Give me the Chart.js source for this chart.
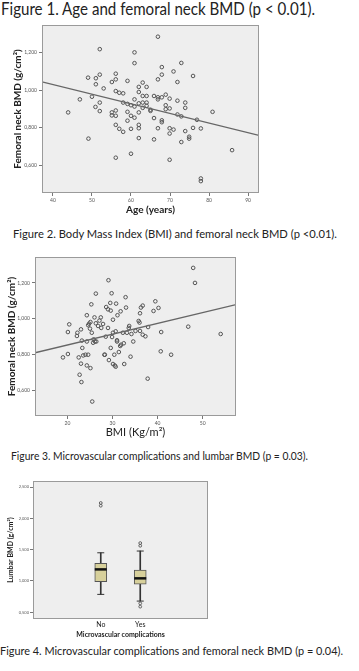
<!DOCTYPE html>
<html>
<head>
<meta charset="utf-8">
<script src="https://cdn.jsdelivr.net/npm/chart.js@4.4.0/dist/chart.umd.min.js"></script>
<style>
  html, body { margin: 0; padding: 0; background: #fff; }
  body { width: 359px; height: 671px; position: relative; overflow: hidden; font-family: Lato, "Open Sans", sans-serif; }
  .cap { position: absolute; white-space: nowrap; color: #222; line-height: 1; transform-origin: 0 0; }
  canvas { position: absolute; left: 0; }
</style>
</head>
<body>
<div class="cap" data-x="1" data-base="16" data-w="314" data-size="16.8">Figure 1. Age and femoral neck BMD (p &lt; 0.01).</div>
<div class="cap" data-x="13" data-base="238.5" data-w="324" data-size="12">Figure 2. Body Mass Index (BMI) and femoral neck BMD (p &lt;0.01).</div>
<div class="cap" data-x="11" data-base="460.5" data-w="297" data-size="12">Figure 3. Microvascular complications and lumbar BMD (p = 0.03).</div>
<div class="cap" data-x="0" data-base="656" data-w="343" data-size="12">Figure 4. Microvascular complications and femoral neck BMD (p = 0.04).</div>

<canvas id="fig1" width="270" height="205" style="top:20px"></canvas>
<canvas id="fig2" width="250" height="200" style="top:240px"></canvas>
<canvas id="fig3" width="220" height="172" style="top:470px"></canvas>

<script>
// Figure 1: age vs femoral neck BMD
const ageYears = [43.9,49.1,49.0,46.9,50.0,52.0,51.0,51.0,52.0,53.0,50.9,52.0,52.0,55.1,56.1,56.1,56.1,57.0,55.1,55.1,
  56.1,56.1,56.1,57.0,58.0,56.1,58.0,58.0,59.1,59.1,59.1,59.1,60.0,60.0,60.0,60.0,60.9,60.9,60.9,60.9,
  60.9,62.0,62.0,62.0,62.0,62.0,62.0,62.0,63.0,63.0,63.0,63.0,64.0,64.0,64.0,64.0,65.0,65.0,65.9,65.9,
  65.9,66.9,66.9,66.9,66.9,66.9,67.9,67.9,67.9,67.9,67.9,68.9,68.9,68.9,69.9,69.9,69.9,69.9,69.9,70.9,
  70.9,71.9,71.9,71.9,72.9,72.9,72.9,73.9,73.9,73.9,74.9,74.9,75.9,75.9,76.9,77.9,80.9,85.9,77.9,77.9];
const neckBmdByAge = [0.882,0.743,1.066,0.951,0.965,1.217,1.063,1.031,1.082,1.009,0.911,0.934,0.889,1.043,1.087,1.057,0.995,0.986,0.882,0.866,
  0.892,0.864,0.816,0.795,0.779,0.642,0.983,0.934,1.049,0.927,0.885,0.838,0.920,0.864,0.795,0.663,1.200,1.143,0.951,0.913,
  0.854,1.017,0.990,0.930,0.882,0.816,0.798,0.746,1.040,0.969,0.934,0.906,1.017,0.969,0.934,0.917,0.896,0.890,0.969,0.852,
  0.739,1.283,1.057,0.962,0.951,0.798,1.122,1.082,0.962,0.840,0.830,0.976,0.920,0.899,0.955,0.903,0.798,0.770,0.631,1.099,
  0.791,1.043,0.944,0.871,1.144,0.861,0.725,0.934,0.906,0.783,0.743,0.753,1.075,0.800,0.843,0.797,0.885,0.682,0.532,0.518];
const ageFitX = [37.2, 92.8];
const ageFitY = [1.044, 0.760];
const ageTicks = [40, 50, 60, 70, 80, 90];

// Figure 2: BMI vs femoral neck BMD
const bmiValues = [19.0,20.1,20.4,20.1,22.2,22.1,22.5,22.7,23.1,23.0,23.0,23.2,23.3,23.5,24.0,24.6,24.3,24.3,24.3,24.6,
  24.8,25.0,25.1,25.3,25.5,25.4,25.1,25.7,25.8,26.0,26.3,26.3,26.1,26.4,26.8,27.1,27.5,27.4,27.9,28.3,
  28.5,28.2,28.6,29.0,29.0,29.1,29.2,29.5,29.6,29.6,29.8,29.9,30.1,30.1,30.1,30.4,30.5,30.7,30.7,30.8,
  31.0,31.0,31.1,31.4,31.7,31.8,31.9,32.3,32.5,32.6,32.9,33.0,33.2,33.6,33.7,34.0,34.2,34.6,35.1,35.8,
  36.0,36.1,36.1,36.3,36.7,36.7,37.3,37.8,37.9,39.1,39.5,40.2,40.8,40.7,43.0,46.8,47.9,48.3,54.0];
const neckBmdByBmi = [0.783,0.802,0.968,0.925,0.921,0.903,0.783,0.686,0.645,0.748,0.940,0.877,0.836,0.794,0.798,0.798,0.738,1.019,0.872,0.963,
  0.972,0.944,0.981,1.080,0.536,0.921,0.723,0.865,0.884,1.007,1.140,0.974,0.872,0.872,0.959,0.989,0.948,1.007,0.970,0.798,
  0.899,0.798,1.065,1.052,0.948,1.215,0.768,1.088,1.045,0.836,1.142,0.897,0.921,0.994,0.746,0.798,0.738,0.731,0.929,1.084,
  0.879,0.872,1.019,0.813,0.847,1.041,0.854,0.921,0.862,0.746,1.120,1.062,0.921,0.948,0.959,0.787,0.914,0.872,0.931,0.987,
  0.978,0.931,1.030,1.062,1.073,0.910,0.901,0.664,0.953,1.043,1.097,1.060,0.925,0.817,0.798,0.955,1.284,1.200,0.914];
const bmiFitX = [12.8, 57.4];
const bmiFitY = [0.809, 1.078];
const bmiTicks = [20, 30, 40, 50];

const neckBmdTicks = [0.6, 0.8, 1.0, 1.2];

// Figure 3: lumbar BMD box plot
const groups = ['No', 'Yes'];
const boxLow = [0.786, 0.679];
const boxQ1 = [0.987, 0.951];
const boxMedian = [1.185, 1.042];
const boxQ3 = [1.281, 1.174];
const boxHigh = [1.450, 1.478];
const outlierGroup = [0, 0, 1, 1, 1, 1];
const outlierValue = [2.201, 2.245, 1.562, 1.605, 0.642, 0.590];
const lumbarTicks = [0.5, 1.0, 1.5, 2.0, 2.5];

Chart.defaults.font.family = 'Lato, "Open Sans", sans-serif';
Chart.defaults.animation = false;
Chart.defaults.plugins.legend.display = false;
Chart.defaults.plugins.tooltip.enabled = false;

const plotFrame = {
  id: 'plotFrame',
  beforeDraw(chart) {
    const { ctx, chartArea: a } = chart;
    ctx.save();
    ctx.fillStyle = '#eeeeee';
    ctx.fillRect(a.left, a.top, a.right - a.left, a.bottom - a.top);
    ctx.restore();
  },
  afterDraw(chart) {
    const { ctx, chartArea: a } = chart;
    ctx.save();
    ctx.strokeStyle = '#9a9a9a';
    ctx.lineWidth = 1;
    ctx.strokeRect(a.left + 0.5, a.top + 0.5, a.right - a.left - 1, a.bottom - a.top - 1);
    ctx.restore();
  }
};

const comma = v => v.toFixed(3).replace('.', ',');

function scatterFigure(id, xs, ys, fitX, fitY, xTicks, xMin, xMax, pad, yWidth, xHeight, xTitle, yTitle) {
  new Chart(document.getElementById(id), {
    type: 'scatter',
    data: {
      datasets: [
        {
          data: xs.map((x, i) => ({ x: x, y: ys[i] })),
          pointRadius: 1.8,
          pointBorderWidth: 1,
          pointBorderColor: '#555',
          pointBackgroundColor: 'rgba(0,0,0,0)',
          order: 2
        },
        {
          data: fitX.map((x, i) => ({ x: x, y: fitY[i] })),
          showLine: true,
          borderColor: '#666',
          borderWidth: 1.3,
          pointRadius: 0,
          order: 1
        }
      ]
    },
    options: {
      responsive: false,
      layout: { padding: pad },
      scales: {
        x: {
          type: 'linear', min: xMin, max: xMax,
          afterBuildTicks: s => { s.ticks = xTicks.map(v => ({ value: v })); },
          afterFit: s => { s.height = xHeight; },
          border: { display: false },
          grid: { drawOnChartArea: false, drawTicks: true, tickLength: 3, color: '#777' },
          ticks: { font: { size: 5 }, color: '#555', padding: 1, maxRotation: 0 },
          title: xTitle
        },
        y: {
          min: 0.455, max: 1.345,
          afterBuildTicks: s => { s.ticks = neckBmdTicks.map(v => ({ value: v })); },
          afterFit: s => { s.width = yWidth; },
          border: { display: false },
          grid: { drawOnChartArea: false, drawTicks: true, tickLength: 3, color: '#777' },
          ticks: { font: { size: 5 }, color: '#555', padding: 2, callback: v => comma(v) },
          title: yTitle
        }
      }
    },
    plugins: [plotFrame]
  });
}

function boxFigure() {
  const atGroup = arr => arr.map((v, i) => ({ x: i, y: v }));
  const lineDot = (data, radius, width, color, order) => ({
    type: 'line', data: atGroup(data), showLine: false, order: order,
    pointStyle: 'line', pointRadius: radius, pointBorderWidth: width,
    borderColor: color, pointBorderColor: color
  });
  new Chart(document.getElementById('fig3'), {
    type: 'bar',
    data: {
      datasets: [
        { data: groups.map((g, i) => ({ x: i, y: [boxLow[i], boxHigh[i]] })), barThickness: 1,
          backgroundColor: '#333', grouped: false, order: 4 },
        { data: groups.map((g, i) => ({ x: i, y: [boxQ1[i], boxQ3[i]] })), barThickness: 12,
          backgroundColor: '#d7d09b', borderColor: '#555', borderWidth: 1, borderSkipped: false,
          grouped: false, order: 3 },
        lineDot(boxMedian, 6, 2.5, '#111', 1),
        lineDot(boxLow, 3.5, 1, '#333', 2),
        lineDot(boxHigh, 3.5, 1, '#333', 2),
        {
          type: 'line', showLine: false, order: 1,
          data: outlierValue.map((v, i) => ({ x: outlierGroup[i], y: v })),
          pointRadius: 1.4, pointBorderWidth: 0.9, pointBorderColor: '#555', pointBackgroundColor: 'rgba(0,0,0,0)'
        }
      ]
    },
    options: {
      responsive: false,
      layout: { padding: { left: 0, top: 11, right: 12, bottom: 0 } },
      scales: {
        x: {
          type: 'linear', min: -0.608, max: 1.608,
          afterBuildTicks: s => { s.ticks = groups.map((g, i) => ({ value: i })); },
          afterFit: s => { s.height = 23; },
          border: { display: false },
          grid: { display: false, drawTicks: false },
          ticks: { font: { size: 7 }, color: '#222', padding: 2, maxRotation: 0, callback: v => groups[v] },
          title: { display: true, text: 'Microvascular complications', color: '#222',
                   font: { size: 7, weight: 'bold' }, padding: { top: 0, bottom: 2.6 } }
        },
        y: {
          min: 0.393, max: 2.596,
          afterBuildTicks: s => { s.ticks = lumbarTicks.map(v => ({ value: v })); },
          afterFit: s => { s.width = 33; },
          border: { display: false },
          grid: { drawOnChartArea: false, drawTicks: true, tickLength: 3, color: '#777' },
          ticks: { font: { size: 4 }, color: '#555', padding: 1, callback: v => comma(v) },
          title: { display: true, text: 'Lumbar BMD (g/cm²)', color: '#222',
                   font: { size: 7, weight: 'bold' }, padding: { top: 6.8, bottom: 0 } }
        }
      }
    },
    plugins: [plotFrame]
  });
}

scatterFigure('fig1', ageYears, neckBmdByAge, ageFitX, ageFitY, ageTicks, 37.2, 92.8,
  { left: 0, top: 2, right: 11, bottom: 0 }, 42, 32,
  { display: true, text: 'Age (years)', color: '#222', font: { size: 10, weight: 'bold' }, padding: { top: 0, bottom: 9 } },
  { display: true, text: 'Femoral neck BMD (g/cm²)', color: '#222', font: { size: 10, weight: 'bold' }, padding: { top: 12, bottom: 0 } });

scatterFigure('fig2', bmiValues, neckBmdByBmi, bmiFitX, bmiFitY, bmiTicks, 12.8, 57.4,
  { left: 0, top: 17, right: 14, bottom: 0 }, 35, 24,
  { display: true, text: 'BMI (Kg/m²)', color: '#222', font: { size: 11 }, padding: { top: 0, bottom: 1.4 } },
  { display: true, text: 'Femoral neck BMD (g/cm²)', color: '#222', font: { size: 10, weight: 'bold' }, padding: { top: 6, bottom: 0 } });

boxFigure();

// captions: size from cap height, then squeeze to the measured width
document.querySelectorAll('.cap').forEach(el => {
  const fs = +el.dataset.size;
  el.style.fontSize = fs + 'px';
  el.style.left = el.dataset.x + 'px';
  el.style.top = (+el.dataset.base - 0.887 * fs) + 'px';
  const w = el.getBoundingClientRect().width;
  el.style.transform = 'scaleX(' + (+el.dataset.w / w) + ')';
});
</script>
</body>
</html>
